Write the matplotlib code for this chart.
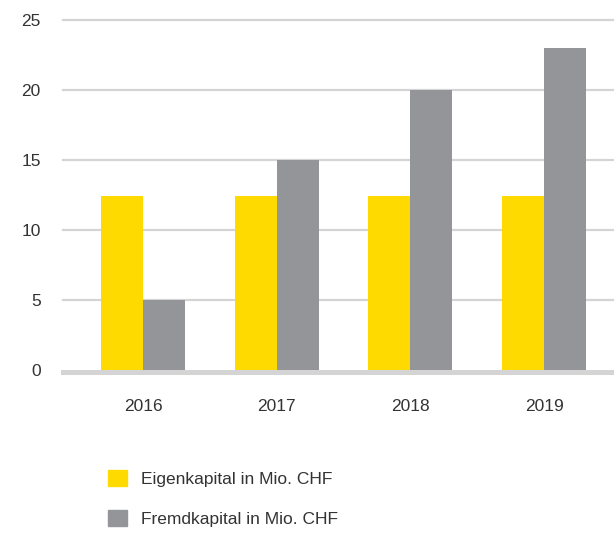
import numpy as np
import matplotlib.pyplot as plt
from matplotlib.patches import Patch

plt.rcParams['font.family'] = ['Liberation Sans', 'DejaVu Sans']

years = ['2016', '2017', '2018', '2019']
eigenkapital = [12.4, 12.4, 12.4, 12.4]
fremdkapital = [5, 15, 20, 23]
labels = ['Eigenkapital in Mio. CHF', 'Fremdkapital in Mio. CHF']

yellow = '#FFDA00'
grey = '#939598'

fig = plt.figure(figsize=(6.14, 5.33), dpi=100)
ax = fig.add_axes([63 / 614, 163 / 533, 1 - 63 / 614, 350 / 533])

x = np.arange(len(years))
w = 0.314
ax.bar(x - w / 2, eigenkapital, width=w, color=yellow, zorder=3)
ax.bar(x + w / 2, fremdkapital, width=w, color=grey, zorder=3)

# grid lines and heavier base line
for v in [5, 10, 15, 20, 25]:
    ax.axhline(v, color='#d4d4d4', lw=1.6, zorder=1, clip_on=False)
ax.axhline(-0.13, color='#d4d4d4', lw=3.6, zorder=2, clip_on=False)

ax.set_xlim(-0.598, 3.523)
ax.set_ylim(0, 25)
ax.set_yticks([0, 5, 10, 15, 20, 25])
ax.set_xticks(x)
ax.set_xticklabels(years)
ax.tick_params(length=0, labelsize=12.5, colors='#333333')
ax.tick_params(axis='y', pad=16)
ax.tick_params(axis='x', pad=21)
for s in ax.spines.values():
    s.set_visible(False)

handles = [Patch(color=yellow), Patch(color=grey)]
fig.legend(handles, labels, loc='upper left', bbox_to_anchor=(92 / 614, 1 - 454 / 533),
           frameon=False, fontsize=12.5, handlelength=1.1, handleheight=1.05,
           labelspacing=1.34, handletextpad=0.8, labelcolor='#333333')

fig.savefig('out.png', dpi=100)
